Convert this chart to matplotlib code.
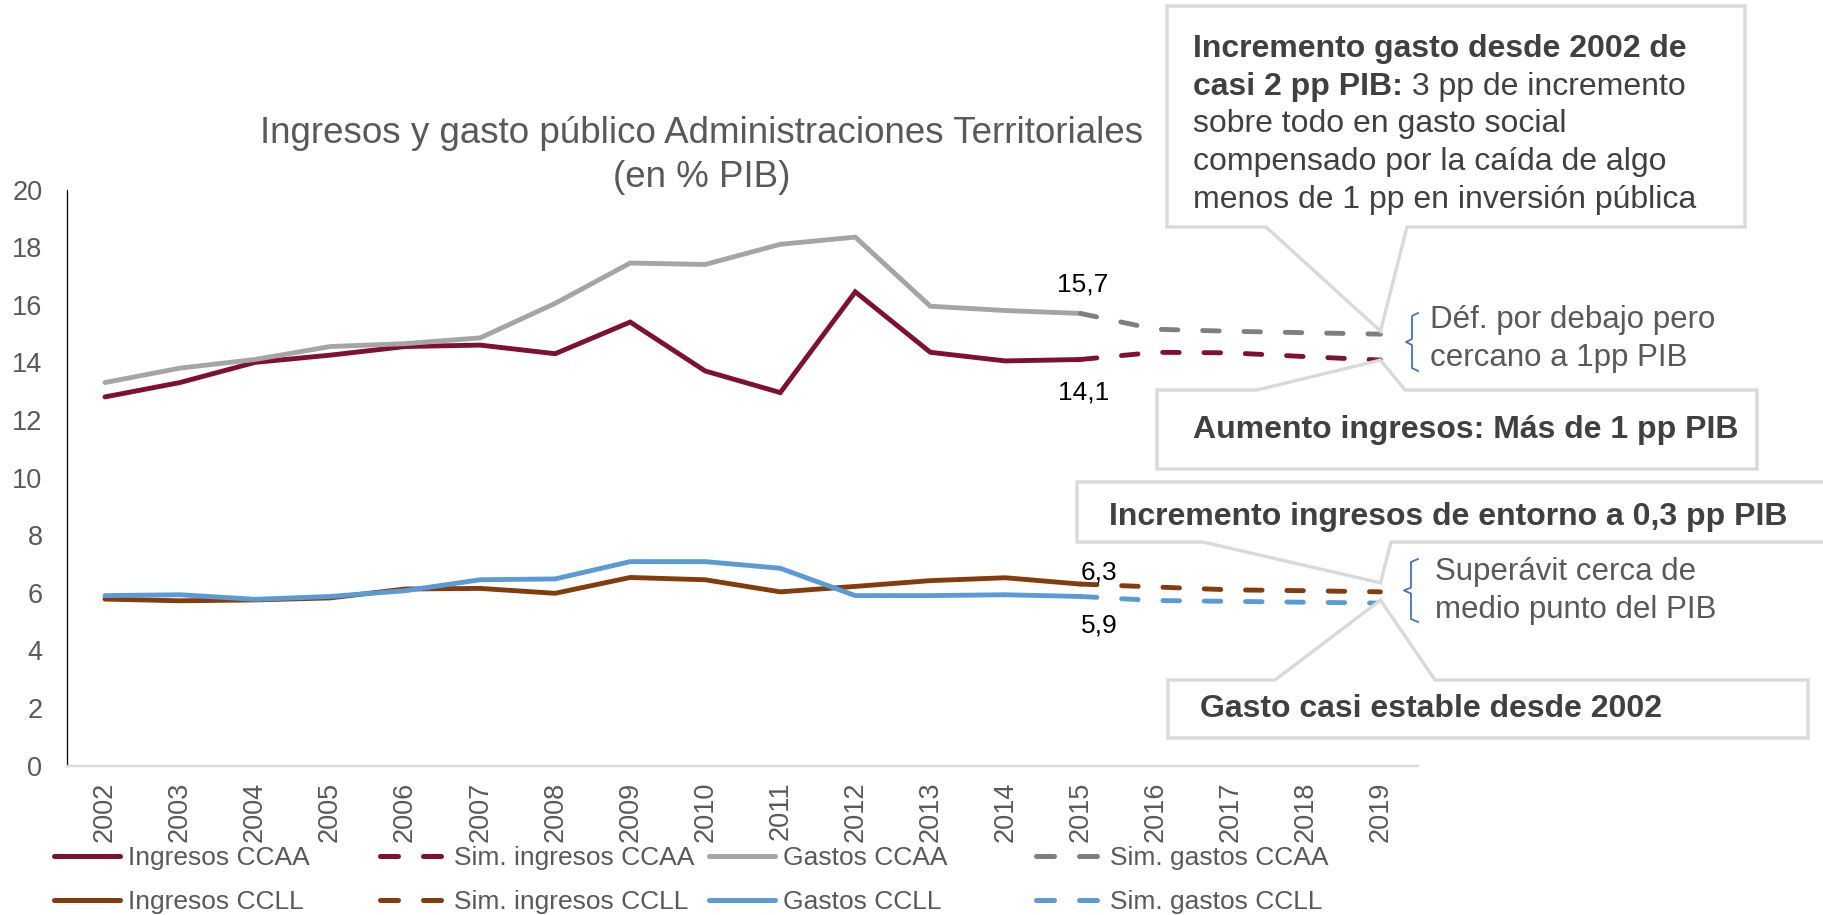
import matplotlib
matplotlib.use('Agg')
import matplotlib.pyplot as plt
from matplotlib.patches import Polygon
from matplotlib.lines import Line2D
import numpy as np

# data (% PIB)
years = [str(y) for y in range(2002, 2020)]
ingresos_ccaa = [12.8, 13.3, 14.0, 14.25, 14.55, 14.6, 14.3, 15.4, 13.7, 12.95, 16.45, 14.35, 14.05, 14.1]
gastos_ccaa = [13.3, 13.8, 14.1, 14.55, 14.65, 14.85, 16.05, 17.45, 17.4, 18.1, 18.35, 15.95, 15.8, 15.7]
ingresos_ccll = [5.78, 5.72, 5.75, 5.82, 6.13, 6.15, 5.98, 6.53, 6.45, 6.03, 6.22, 6.42, 6.52, 6.3]
gastos_ccll = [5.9, 5.93, 5.77, 5.87, 6.07, 6.45, 6.48, 7.08, 7.08, 6.85, 5.9, 5.9, 5.93, 5.87]
# simulations 2015-2019
sim_ingresos_ccaa = [14.1, 14.35, 14.33, 14.2, 14.08]
sim_gastos_ccaa = [15.7, 15.15, 15.08, 15.03, 14.98]
sim_ingresos_ccll = [6.3, 6.2, 6.1, 6.07, 6.03]
sim_gastos_ccll = [5.87, 5.73, 5.7, 5.67, 5.64]

W, H = 1824, 915
TXT = '#595959'
BOX = '#D9D9D9'
RED = '#80102F'
BROWN = '#843C0C'
GRAY = '#A5A5A5'
DGRAY = '#7F7F7F'
BLUE = '#5B9BD5'
DASH = (0, (3.4, 5.1))

plt.rcParams['font.family'] = ['Liberation Sans', 'DejaVu Sans']


def fx(px):
    return px / W


def fy(py):
    return 1 - py / H


fig = plt.figure(figsize=(W / 100, H / 100), dpi=100)
ax = fig.add_axes([fx(67.5), fy(765.5), fx(1418) - fx(67.5), fy(189.6) - fy(765.5)])

x_obs = np.arange(len(ingresos_ccaa))
x_sim = np.arange(len(ingresos_ccaa) - 1, len(years))

series = [
    ('Ingresos CCAA', x_obs, ingresos_ccaa, RED, '-'),
    ('Sim. ingresos CCAA', x_sim, sim_ingresos_ccaa, RED, DASH),
    ('Gastos CCAA', x_obs, gastos_ccaa, GRAY, '-'),
    ('Sim. gastos CCAA', x_sim, sim_gastos_ccaa, DGRAY, DASH),
    ('Ingresos CCLL', x_obs, ingresos_ccll, BROWN, '-'),
    ('Sim. ingresos CCLL', x_sim, sim_ingresos_ccll, BROWN, DASH),
    ('Gastos CCLL', x_obs, gastos_ccll, BLUE, '-'),
    ('Sim. gastos CCLL', x_sim, sim_gastos_ccll, BLUE, DASH),
]
for label, xs, ys, c, ls in series:
    ax.plot(xs, ys, color=c, lw=3.5, ls=ls, label=label,
            solid_capstyle='round', dash_capstyle='round', solid_joinstyle='miter')

ax.set_xlim(-0.5, len(years) - 0.5)
ax.set_ylim(0, 20)
ax.set_yticks(range(0, 21, 2))
ax.set_xticks(np.arange(len(years)))
ax.set_xticklabels(years, rotation=90, fontsize=19.5, color=TXT)
ax.tick_params(axis='y', length=0, pad=18, labelsize=19.5, labelcolor=TXT)
ax.tick_params(axis='x', length=0, pad=11.5)
for s in ['top', 'right']:
    ax.spines[s].set_visible(False)
ax.spines['left'].set_color('black')
ax.spines['left'].set_linewidth(0.9)
ax.spines['bottom'].set_color(BOX)
ax.spines['bottom'].set_linewidth(1.6)

# value labels at 2015
i15 = len(ingresos_ccaa) - 1
for vals, dx, dy in [(gastos_ccaa, 2, 21), (ingresos_ccaa, 2, -23.5),
                     (ingresos_ccll, 13.5, 8.4), (gastos_ccll, 13.5, -21)]:
    v = vals[i15]
    ax.annotate(f'{v:.1f}'.replace('.', ','), xy=(i15, v), xytext=(dx, dy),
                textcoords='offset points', ha='center', va='center',
                fontsize=19, color='black')

# title
fig.text(fx(702), fy(142.7), 'Ingresos y gasto público Administraciones Territoriales',
         ha='center', va='baseline', fontsize=26.5, color=TXT)
fig.text(fx(702), fy(187), '(en % PIB)', ha='center', va='baseline', fontsize=26.5, color=TXT)


def tip_of(xi, v, off=0):
    px, py = ax.transData.transform((xi, v))
    return px, H - py + off


def callout(x0, y0, x1, y1, n0, n1, tip, side):
    tx, ty = tip
    if side == 'bottom':
        pts = [(x0, y0), (x1, y0), (x1, y1), (n1, y1), (tx, ty), (n0, y1), (x0, y1)]
    else:
        pts = [(x0, y0), (n0, y0), (tx, ty), (n1, y0), (x1, y0), (x1, y1), (x0, y1)]
    poly = Polygon([(fx(a), fy(b)) for a, b in pts], closed=True, transform=fig.transFigure,
                   facecolor='white', edgecolor=BOX, lw=2.4, joinstyle='miter', zorder=5)
    fig.add_artist(poly)


last = len(years) - 1
callout(1167, 6, 1745, 227, 1266, 1407, tip_of(last, sim_gastos_ccaa[-1], -3), 'bottom')
callout(1157, 390, 1757, 469, 1257, 1405, tip_of(last, sim_ingresos_ccaa[-1]), 'top')
callout(1077, 482, 1840, 542, 1203, 1391, tip_of(last, sim_ingresos_ccll[-1], -9), 'bottom')
callout(1168, 680, 1808, 738, 1275, 1435, tip_of(last, sim_gastos_ccll[-1], -3), 'top')

kw = dict(va='center', ha='left', fontsize=23, color='#404040', zorder=6)
fig.text(fx(1193), fy(49), 'Incremento gasto desde 2002 de', fontweight='bold', **kw)
t = fig.text(fx(1193), fy(87), 'casi 2 pp PIB:', fontweight='bold', **kw)
bb = t.get_window_extent(fig.canvas.get_renderer())
fig.text(bb.x1 / W, fy(87), ' 3 pp de incremento', **kw)
fig.text(fx(1193), fy(124), 'sobre todo en gasto social', **kw)
fig.text(fx(1193), fy(162), 'compensado por la caída de algo', **kw)
fig.text(fx(1193), fy(200), 'menos de 1 pp en inversión pública', **kw)
fig.text(fx(1193), fy(430), 'Aumento ingresos: Más de 1 pp PIB', fontweight='bold', **kw)
fig.text(fx(1109), fy(517), 'Incremento ingresos de entorno a 0,3 pp PIB', fontweight='bold', **kw)
fig.text(fx(1200), fy(709), 'Gasto casi estable desde 2002', fontweight='bold', **kw)

kw2 = dict(va='center', ha='left', fontsize=22.5, color=TXT, zorder=6)
fig.text(fx(1430), fy(320), 'Déf. por debajo pero', **kw2)
fig.text(fx(1430), fy(358), 'cercano a 1pp PIB', **kw2)
fig.text(fx(1435), fy(572), 'Superávit cerca de', **kw2)
fig.text(fx(1435), fy(610), 'medio punto del PIB', **kw2)


def brace(xl, xr, top, bot):
    mid = (top + bot) / 2
    xm = (xl + xr) / 2
    pts = [(xr, top), (xm, top + 3), (xm, mid - 3), (xl, mid), (xm, mid + 3), (xm, bot - 3), (xr, bot)]
    fig.add_artist(Line2D([fx(a) for a, b in pts], [fy(b) for a, b in pts],
                          transform=fig.transFigure, color='#4472C4', lw=1.3))


brace(1406, 1418, 313, 371)
brace(1404, 1418, 559, 622)

# legend, one block per column
handles = []
for label, xs, ys, c, ls in series:
    hls = (0, (3.6, 5.0)) if ls != '-' else '-'
    handles.append(Line2D([], [], color=c, lw=3.6, ls=hls,
                          solid_capstyle='round', dash_capstyle='round'))
labels = [s[0] for s in series]
col_x = [54, 380, 709, 1036]
for c in range(4):
    fig.legend([handles[c], handles[c + 4]], [labels[c], labels[c + 4]],
               loc='center left', bbox_to_anchor=(fx(col_x[c]), fy(880)),
               frameon=False, borderpad=0, borderaxespad=0, handlelength=2.5,
               handletextpad=0.3, labelspacing=0.77, fontsize=19, labelcolor=TXT)

fig.savefig('out.png', dpi=100)
